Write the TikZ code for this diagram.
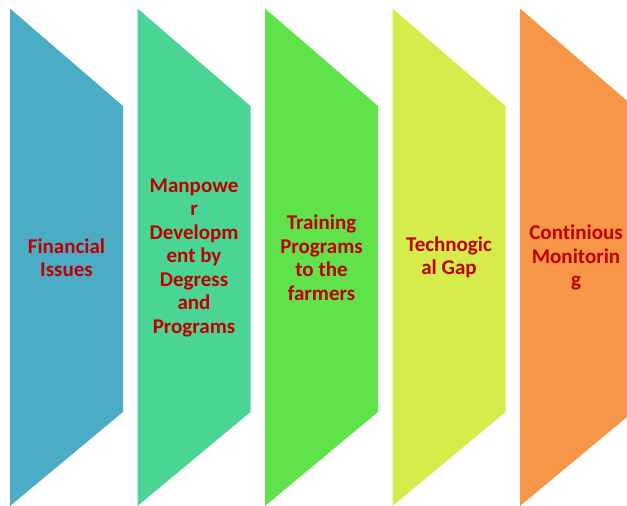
\documentclass[tikz,border=0pt]{standalone}
\usepackage{fontspec}
\setmainfont[Ligatures={NoCommon,NoRare}]{Carlito}
\definecolor{cA}{HTML}{4BACC6}
\definecolor{cB}{HTML}{4AD594}
\definecolor{cC}{HTML}{5FE24A}
\definecolor{cD}{HTML}{D5EC4A}
\definecolor{cE}{HTML}{F79646}
\definecolor{txt}{HTML}{C00000}
\tikzset{
  lbl/.style={text=txt, align=center, font=\fontsize{21}{23.5}\selectfont\bfseries, inner sep=0pt},
}
\newcommand{\chev}[2]{\fill[#2] (#1,8.5) -- (#1+113,106) -- (#1+113,412) -- (#1,506) -- cycle;}
\begin{document}
\begin{tikzpicture}[x=1pt,y=-1pt]
\useasboundingbox (0,0) rectangle (627,506);
\chev{10}{cA}
\chev{137.5}{cB}
\chev{265}{cC}
\chev{392.5}{cD}
\chev{520}{cE}
\node[lbl] (t1) at (66.5,257.5) {Financial\\Issues};
\node[lbl] (t2) at (194,257.5) {Manpowe\\r\\Developm\\ent by\\Degress\\and\\Programs};
\node[lbl] (t3) at (321.5,257.5) {Training\\Programs\\to the\\farmers};
\node[lbl] (t4) at (449,257.5) {Technogic\\al Gap};
\node[lbl] (t5) at (576,257.5) {Continious\\Monitorin\\g};
\end{tikzpicture}
\end{document}
